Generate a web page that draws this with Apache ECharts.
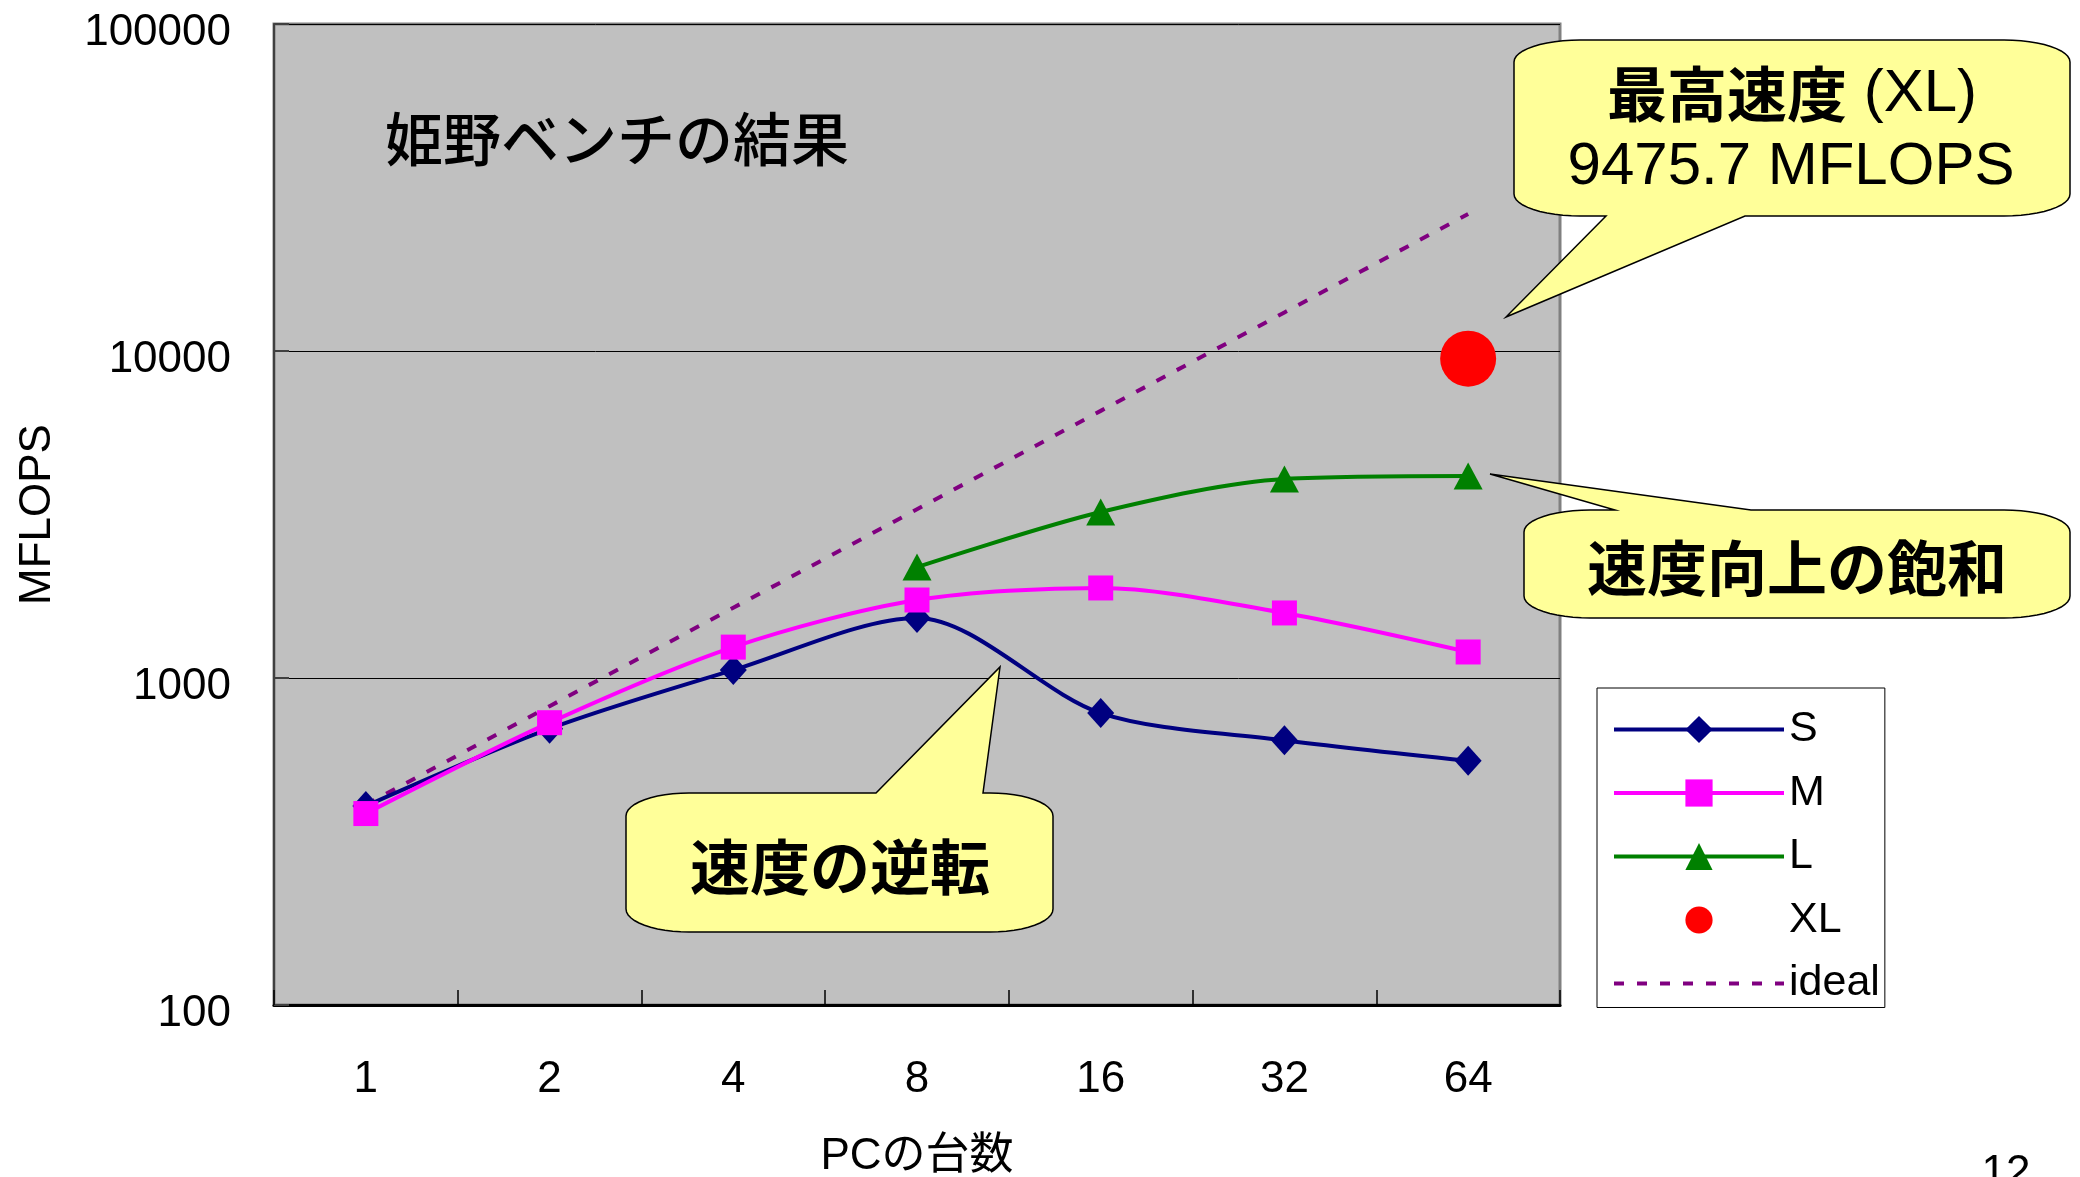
<!DOCTYPE html>
<html>
<head>
<meta charset="utf-8">
<script src="https://cdn.jsdelivr.net/npm/echarts@6/dist/echarts.min.js"></script>
<style>
  html, body { margin: 0; padding: 0; background: #ffffff; }
  #chart { width: 2080px; height: 1177px; }
</style>
</head>
<body>
<div id="chart"></div>
<script>
// PC count on the horizontal axis
const pcCounts = ['1', '2', '4', '8', '16', '32', '64'];
// Himeno benchmark results (MFLOPS) per problem size
const sizeS = [406, 700, 1058, 1526, 781, 645, 558];
const sizeM = [385, 730, 1243, 1732, 1885, 1581, 1201];
const sizeL = ['-', '-', '-', 2184, 3219, 4061, 4146];
const sizeXL = ['-', '-', '-', '-', '-', '-', 9475.7];
const ideal = [410, 820, 1640, 3280, 6560, 13120, 26240];
// decade ticks of the MFLOPS axis
const yTicks = [100, 1000, 10000, 100000];

const LATIN = '"Liberation Sans", Arial, "Noto Sans CJK JP", sans-serif';
const CJK = '"Noto Sans CJK JP", "Liberation Sans", sans-serif';

// Speech-bubble outline: rounded box with elliptic corners plus a pointer wedge.
function calloutOutline(box, rx, ry, wedge) {
  const [L, T, R, B] = box;
  const pts = [];
  const arc = (cx, cy, a0, a1) => {
    for (let k = 0; k <= 12; k++) {
      const t = a0 + (a1 - a0) * k / 12;
      pts.push([cx + rx * Math.cos(t), cy + ry * Math.sin(t)]);
    }
  };
  arc(L + rx, T + ry, Math.PI, 1.5 * Math.PI);
  if (wedge.side === 'top') pts.push([wedge.a, T], wedge.tip, [wedge.b, T]);
  arc(R - rx, T + ry, 1.5 * Math.PI, 2 * Math.PI);
  arc(R - rx, B - ry, 0, 0.5 * Math.PI);
  if (wedge.side === 'bottom') pts.push([wedge.b, B], wedge.tip, [wedge.a, B]);
  arc(L + rx, B - ry, 0.5 * Math.PI, Math.PI);
  return pts;
}

function bubble(points) {
  return {
    type: 'polygon',
    z: 50,
    shape: { points: points },
    style: { fill: '#FFFF99', stroke: '#000000', lineWidth: 1.5 }
  };
}

function label(text, x, y, font, align) {
  return {
    type: 'text',
    z: 60,
    style: {
      text: text, x: x, y: y, fill: '#000000',
      font: font, align: align || 'center', verticalAlign: 'middle'
    }
  };
}

const chart = echarts.init(document.getElementById('chart'), null, { renderer: 'canvas' });

chart.setOption({
  animation: false,
  backgroundColor: '#ffffff',
  textStyle: { fontFamily: LATIN, color: '#000000' },
  grid: {
    left: 274, top: 24, width: 1286, height: 981,
    outerBoundsMode: 'none',
    containLabel: false,
    show: true,
    backgroundColor: '#C0C0C0',
    borderColor: '#808080',
    borderWidth: 3
  },
  xAxis: {
    type: 'category',
    data: pcCounts,
    boundaryGap: true,
    name: 'PCの台数',
    nameLocation: 'middle',
    nameGap: 130,
    nameTextStyle: { fontFamily: LATIN, fontSize: 44, lineHeight: 44, color: '#000' },
    axisLine: { show: true, lineStyle: { color: '#000000', width: 3 } },
    axisTick: { show: true, inside: true, length: 15, lineStyle: { color: '#000000', width: 1.5 } },
    axisLabel: { fontFamily: LATIN, fontSize: 44, lineHeight: 44, margin: 53, color: '#000' },
    splitLine: { show: false }
  },
  yAxis: {
    type: 'log',
    logBase: 10,
    min: yTicks[0],
    max: yTicks[yTicks.length - 1],
    name: 'MFLOPS',
    nameLocation: 'middle',
    nameRotate: 90,
    nameGap: 214,
    nameTextStyle: { fontFamily: LATIN, fontSize: 44, lineHeight: 44, color: '#000' },
    axisLine: { show: true, lineStyle: { color: '#404040', width: 2 } },
    axisTick: { show: true, inside: true, length: 15, lineStyle: { color: '#404040', width: 2 } },
    axisLabel: {
      fontFamily: LATIN, fontSize: 44, lineHeight: 17, verticalAlign: 'top',
      margin: 43, color: '#000',
      formatter: function (v) { return String(Math.round(v)); }
    },
    splitLine: { show: true, lineStyle: { color: '#000000', width: 1 } },
    minorTick: { show: false },
    minorSplitLine: { show: false }
  },
  legend: {
    orient: 'vertical',
    left: 1597,
    top: 688,
    padding: [20, 5, 2.5, 15],
    itemWidth: 170,
    itemHeight: 34,
    itemGap: 20.5,
    backgroundColor: '#ffffff',
    borderColor: '#000000',
    borderWidth: 1,
    borderRadius: 0,
    selectedMode: false,
    textStyle: { fontFamily: LATIN, fontSize: 43, color: '#000000' },
    lineStyle: { width: 4 },
    data: [
      'S',
      'M',
      'L',
      { name: 'XL', lineStyle: { width: 0 } },
      { name: 'ideal', itemStyle: { opacity: 0, color: 'rgba(0,0,0,0)' } }
    ]
  },
  series: [
    {
      name: 'ideal',
      type: 'line',
      data: ideal,
      symbol: 'none',
      color: '#800080',
      lineStyle: { color: '#800080', width: 4, type: [10, 13], cap: 'butt' },
      z: 2
    },
    {
      name: 'S',
      type: 'line',
      data: sizeS,
      smooth: 0.3,
      symbol: 'diamond',
      symbolSize: [27, 30],
      color: '#000080',
      itemStyle: { color: '#000080' },
      lineStyle: { color: '#000080', width: 4 },
      z: 3
    },
    {
      name: 'M',
      type: 'line',
      data: sizeM,
      smooth: 0.3,
      symbol: 'rect',
      symbolSize: 25,
      color: '#FF00FF',
      itemStyle: { color: '#FF00FF' },
      lineStyle: { color: '#FF00FF', width: 4 },
      z: 4
    },
    {
      name: 'L',
      type: 'line',
      data: sizeL,
      smooth: 0.3,
      symbol: 'triangle',
      symbolSize: [29, 27],
      color: '#008000',
      itemStyle: { color: '#008000' },
      lineStyle: { color: '#008000', width: 4 },
      z: 5
    },
    {
      name: 'XL',
      type: 'line',
      data: sizeXL,
      symbol: 'circle',
      symbolSize: 56,
      color: '#FF0000',
      itemStyle: { color: '#FF0000' },
      lineStyle: { width: 0 },
      z: 6
    }
  ],
  graphic: [
    label('姫野ベンチの結果', 385, 139, '500 58px ' + CJK, 'left'),
    bubble(calloutOutline([1514, 40, 2070, 216], 66, 22,
      { side: 'bottom', a: 1606, b: 1745, tip: [1506, 317] })),
    {
      type: 'text',
      z: 60,
      style: {
        text: '{b|最高速度}{r| (XL)}',
        x: 1792, y: 94, align: 'center', verticalAlign: 'middle',
        rich: {
          b: { fontFamily: CJK, fontWeight: 'bold', fontSize: 60, fill: '#000' },
          r: { fontFamily: LATIN, fontWeight: 'normal', fontSize: 60, fill: '#000' }
        }
      }
    },
    label('9475.7 MFLOPS', 1791, 167, 'normal 60px ' + LATIN),
    bubble(calloutOutline([1524, 510, 2070, 618], 66, 22,
      { side: 'top', a: 1615, b: 1751, tip: [1490, 474] })),
    label('速度向上の飽和', 1797, 568, 'bold 60px ' + CJK),
    bubble(calloutOutline([626, 793, 1053, 932], 63, 23,
      { side: 'top', a: 876, b: 983, tip: [1000, 667] })),
    label('速度の逆転', 840, 867, 'bold 60px ' + CJK),
    label('12', 2006, 1174, 'normal 44px ' + LATIN)
  ]
});
</script>
</body>
</html>
